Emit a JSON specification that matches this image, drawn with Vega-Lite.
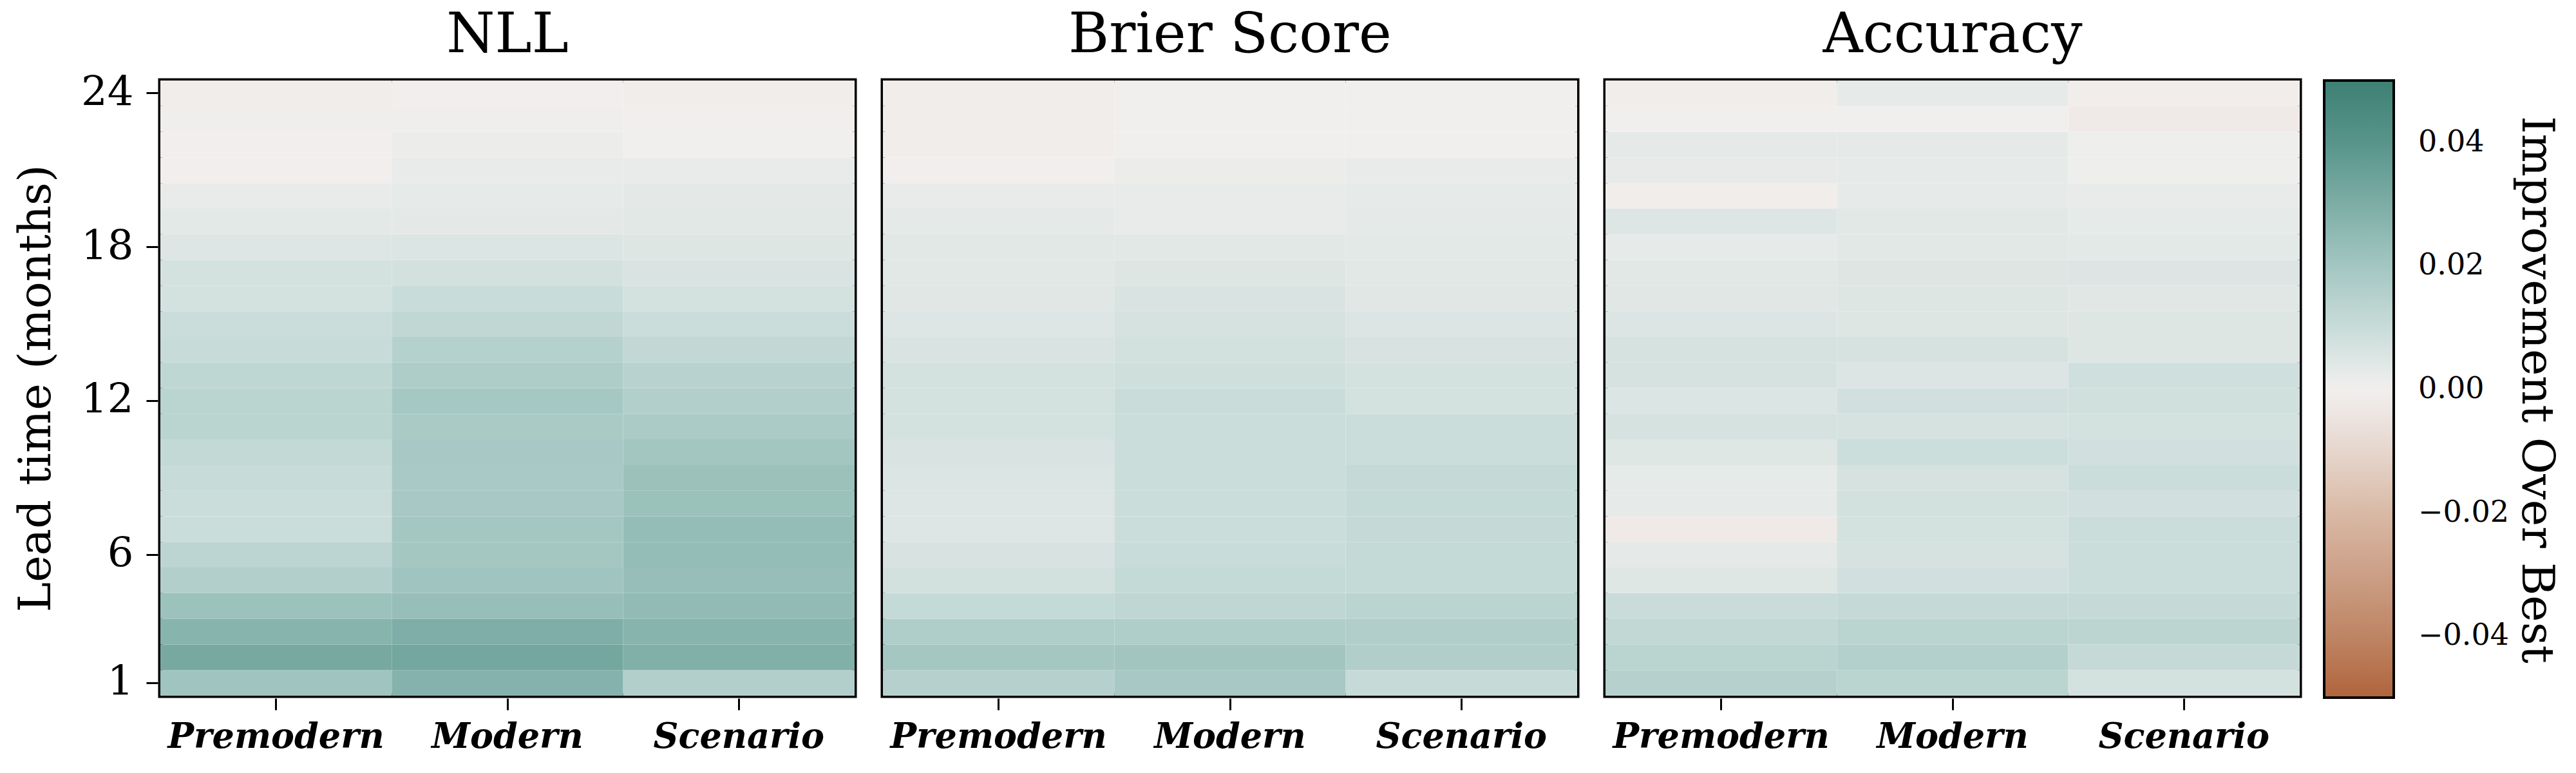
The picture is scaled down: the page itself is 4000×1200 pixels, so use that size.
{
  "$schema": "https://vega.github.io/schema/vega-lite/v6.json",
  "background": "white",
  "padding": {"left": 21, "top": 12, "right": 10, "bottom": 10},
  "datasets": {
    "cells": [
      {"metric":"NLL","model":"Premodern","lead":1,"v":0.0208},{"metric":"NLL","model":"Premodern","lead":2,"v":0.0316},{"metric":"NLL","model":"Premodern","lead":3,"v":0.0271},{"metric":"NLL","model":"Premodern","lead":4,"v":0.0218},{"metric":"NLL","model":"Premodern","lead":5,"v":0.0159},{"metric":"NLL","model":"Premodern","lead":6,"v":0.013},{"metric":"NLL","model":"Premodern","lead":7,"v":0.0095},{"metric":"NLL","model":"Premodern","lead":8,"v":0.0095},{"metric":"NLL","model":"Premodern","lead":9,"v":0.0103},{"metric":"NLL","model":"Premodern","lead":10,"v":0.0114},{"metric":"NLL","model":"Premodern","lead":11,"v":0.0138},{"metric":"NLL","model":"Premodern","lead":12,"v":0.0138},{"metric":"NLL","model":"Premodern","lead":13,"v":0.0124},{"metric":"NLL","model":"Premodern","lead":14,"v":0.0103},{"metric":"NLL","model":"Premodern","lead":15,"v":0.0093},{"metric":"NLL","model":"Premodern","lead":16,"v":0.0071},{"metric":"NLL","model":"Premodern","lead":17,"v":0.0071},{"metric":"NLL","model":"Premodern","lead":18,"v":0.0049},{"metric":"NLL","model":"Premodern","lead":19,"v":0.0034},{"metric":"NLL","model":"Premodern","lead":20,"v":0.0022},{"metric":"NLL","model":"Premodern","lead":21,"v":-0.0004},{"metric":"NLL","model":"Premodern","lead":22,"v":-0.0004},{"metric":"NLL","model":"Premodern","lead":23,"v":-0.0005},{"metric":"NLL","model":"Premodern","lead":24,"v":-0.001},
      {"metric":"NLL","model":"Modern","lead":1,"v":0.0279},{"metric":"NLL","model":"Modern","lead":2,"v":0.0324},{"metric":"NLL","model":"Modern","lead":3,"v":0.0297},{"metric":"NLL","model":"Modern","lead":4,"v":0.0232},{"metric":"NLL","model":"Modern","lead":5,"v":0.0208},{"metric":"NLL","model":"Modern","lead":6,"v":0.0195},{"metric":"NLL","model":"Modern","lead":7,"v":0.0195},{"metric":"NLL","model":"Modern","lead":8,"v":0.0189},{"metric":"NLL","model":"Modern","lead":9,"v":0.0186},{"metric":"NLL","model":"Modern","lead":10,"v":0.0189},{"metric":"NLL","model":"Modern","lead":11,"v":0.0181},{"metric":"NLL","model":"Modern","lead":12,"v":0.0192},{"metric":"NLL","model":"Modern","lead":13,"v":0.017},{"metric":"NLL","model":"Modern","lead":14,"v":0.0151},{"metric":"NLL","model":"Modern","lead":15,"v":0.0122},{"metric":"NLL","model":"Modern","lead":16,"v":0.01},{"metric":"NLL","model":"Modern","lead":17,"v":0.0076},{"metric":"NLL","model":"Modern","lead":18,"v":0.0054},{"metric":"NLL","model":"Modern","lead":19,"v":0.0032},{"metric":"NLL","model":"Modern","lead":20,"v":0.0027},{"metric":"NLL","model":"Modern","lead":21,"v":0.0022},{"metric":"NLL","model":"Modern","lead":22,"v":0.0012},{"metric":"NLL","model":"Modern","lead":23,"v":0.0005},{"metric":"NLL","model":"Modern","lead":24,"v":-0.0003},
      {"metric":"NLL","model":"Scenario","lead":1,"v":0.0159},{"metric":"NLL","model":"Scenario","lead":2,"v":0.0289},{"metric":"NLL","model":"Scenario","lead":3,"v":0.0274},{"metric":"NLL","model":"Scenario","lead":4,"v":0.0245},{"metric":"NLL","model":"Scenario","lead":5,"v":0.0232},{"metric":"NLL","model":"Scenario","lead":6,"v":0.0237},{"metric":"NLL","model":"Scenario","lead":7,"v":0.0237},{"metric":"NLL","model":"Scenario","lead":8,"v":0.0221},{"metric":"NLL","model":"Scenario","lead":9,"v":0.0221},{"metric":"NLL","model":"Scenario","lead":10,"v":0.02},{"metric":"NLL","model":"Scenario","lead":11,"v":0.0178},{"metric":"NLL","model":"Scenario","lead":12,"v":0.0159},{"metric":"NLL","model":"Scenario","lead":13,"v":0.0143},{"metric":"NLL","model":"Scenario","lead":14,"v":0.0116},{"metric":"NLL","model":"Scenario","lead":15,"v":0.0095},{"metric":"NLL","model":"Scenario","lead":16,"v":0.0071},{"metric":"NLL","model":"Scenario","lead":17,"v":0.0059},{"metric":"NLL","model":"Scenario","lead":18,"v":0.0046},{"metric":"NLL","model":"Scenario","lead":19,"v":0.0037},{"metric":"NLL","model":"Scenario","lead":20,"v":0.0032},{"metric":"NLL","model":"Scenario","lead":21,"v":0.0022},{"metric":"NLL","model":"Scenario","lead":22,"v":0.0002},{"metric":"NLL","model":"Scenario","lead":23,"v":-0.0004},{"metric":"NLL","model":"Scenario","lead":24,"v":-0.0008},
      {"metric":"Brier Score","model":"Premodern","lead":1,"v":0.0149},{"metric":"Brier Score","model":"Premodern","lead":2,"v":0.0195},{"metric":"Brier Score","model":"Premodern","lead":3,"v":0.0165},{"metric":"Brier Score","model":"Premodern","lead":4,"v":0.011},{"metric":"Brier Score","model":"Premodern","lead":5,"v":0.0076},{"metric":"Brier Score","model":"Premodern","lead":6,"v":0.0061},{"metric":"Brier Score","model":"Premodern","lead":7,"v":0.0049},{"metric":"Brier Score","model":"Premodern","lead":8,"v":0.0049},{"metric":"Brier Score","model":"Premodern","lead":9,"v":0.0054},{"metric":"Brier Score","model":"Premodern","lead":10,"v":0.0059},{"metric":"Brier Score","model":"Premodern","lead":11,"v":0.0073},{"metric":"Brier Score","model":"Premodern","lead":12,"v":0.0073},{"metric":"Brier Score","model":"Premodern","lead":13,"v":0.0073},{"metric":"Brier Score","model":"Premodern","lead":14,"v":0.0059},{"metric":"Brier Score","model":"Premodern","lead":15,"v":0.0049},{"metric":"Brier Score","model":"Premodern","lead":16,"v":0.0041},{"metric":"Brier Score","model":"Premodern","lead":17,"v":0.0039},{"metric":"Brier Score","model":"Premodern","lead":18,"v":0.0037},{"metric":"Brier Score","model":"Premodern","lead":19,"v":0.0029},{"metric":"Brier Score","model":"Premodern","lead":20,"v":0.0022},{"metric":"Brier Score","model":"Premodern","lead":21,"v":-0.0004},{"metric":"Brier Score","model":"Premodern","lead":22,"v":-0.0008},{"metric":"Brier Score","model":"Premodern","lead":23,"v":-0.0008},{"metric":"Brier Score","model":"Premodern","lead":24,"v":-0.0008},
      {"metric":"Brier Score","model":"Modern","lead":1,"v":0.0189},{"metric":"Brier Score","model":"Modern","lead":2,"v":0.0203},{"metric":"Brier Score","model":"Modern","lead":3,"v":0.0165},{"metric":"Brier Score","model":"Modern","lead":4,"v":0.0124},{"metric":"Brier Score","model":"Modern","lead":5,"v":0.0111},{"metric":"Brier Score","model":"Modern","lead":6,"v":0.01},{"metric":"Brier Score","model":"Modern","lead":7,"v":0.0095},{"metric":"Brier Score","model":"Modern","lead":8,"v":0.0095},{"metric":"Brier Score","model":"Modern","lead":9,"v":0.0095},{"metric":"Brier Score","model":"Modern","lead":10,"v":0.0095},{"metric":"Brier Score","model":"Modern","lead":11,"v":0.0095},{"metric":"Brier Score","model":"Modern","lead":12,"v":0.0098},{"metric":"Brier Score","model":"Modern","lead":13,"v":0.0085},{"metric":"Brier Score","model":"Modern","lead":14,"v":0.0076},{"metric":"Brier Score","model":"Modern","lead":15,"v":0.0066},{"metric":"Brier Score","model":"Modern","lead":16,"v":0.0059},{"metric":"Brier Score","model":"Modern","lead":17,"v":0.0046},{"metric":"Brier Score","model":"Modern","lead":18,"v":0.0037},{"metric":"Brier Score","model":"Modern","lead":19,"v":0.0022},{"metric":"Brier Score","model":"Modern","lead":20,"v":0.0022},{"metric":"Brier Score","model":"Modern","lead":21,"v":0.0012},{"metric":"Brier Score","model":"Modern","lead":22,"v":0.0002},{"metric":"Brier Score","model":"Modern","lead":23,"v":0.0001},{"metric":"Brier Score","model":"Modern","lead":24,"v":-0.0002},
      {"metric":"Brier Score","model":"Scenario","lead":1,"v":0.0105},{"metric":"Brier Score","model":"Scenario","lead":2,"v":0.0162},{"metric":"Brier Score","model":"Scenario","lead":3,"v":0.0162},{"metric":"Brier Score","model":"Scenario","lead":4,"v":0.0138},{"metric":"Brier Score","model":"Scenario","lead":5,"v":0.0111},{"metric":"Brier Score","model":"Scenario","lead":6,"v":0.0111},{"metric":"Brier Score","model":"Scenario","lead":7,"v":0.0111},{"metric":"Brier Score","model":"Scenario","lead":8,"v":0.0111},{"metric":"Brier Score","model":"Scenario","lead":9,"v":0.0111},{"metric":"Brier Score","model":"Scenario","lead":10,"v":0.0093},{"metric":"Brier Score","model":"Scenario","lead":11,"v":0.0093},{"metric":"Brier Score","model":"Scenario","lead":12,"v":0.0073},{"metric":"Brier Score","model":"Scenario","lead":13,"v":0.0073},{"metric":"Brier Score","model":"Scenario","lead":14,"v":0.0061},{"metric":"Brier Score","model":"Scenario","lead":15,"v":0.0051},{"metric":"Brier Score","model":"Scenario","lead":16,"v":0.0041},{"metric":"Brier Score","model":"Scenario","lead":17,"v":0.0039},{"metric":"Brier Score","model":"Scenario","lead":18,"v":0.0034},{"metric":"Brier Score","model":"Scenario","lead":19,"v":0.0029},{"metric":"Brier Score","model":"Scenario","lead":20,"v":0.0027},{"metric":"Brier Score","model":"Scenario","lead":21,"v":0.0022},{"metric":"Brier Score","model":"Scenario","lead":22,"v":-0.0002},{"metric":"Brier Score","model":"Scenario","lead":23,"v":-0.0002},{"metric":"Brier Score","model":"Scenario","lead":24,"v":-0.0002},
      {"metric":"Accuracy","model":"Premodern","lead":1,"v":0.0149},{"metric":"Accuracy","model":"Premodern","lead":2,"v":0.0138},{"metric":"Accuracy","model":"Premodern","lead":3,"v":0.0116},{"metric":"Accuracy","model":"Premodern","lead":4,"v":0.0098},{"metric":"Accuracy","model":"Premodern","lead":5,"v":0.0044},{"metric":"Accuracy","model":"Premodern","lead":6,"v":0.0029},{"metric":"Accuracy","model":"Premodern","lead":7,"v":-0.002},{"metric":"Accuracy","model":"Premodern","lead":8,"v":0.0027},{"metric":"Accuracy","model":"Premodern","lead":9,"v":0.0027},{"metric":"Accuracy","model":"Premodern","lead":10,"v":0.0044},{"metric":"Accuracy","model":"Premodern","lead":11,"v":0.0068},{"metric":"Accuracy","model":"Premodern","lead":12,"v":0.0054},{"metric":"Accuracy","model":"Premodern","lead":13,"v":0.0068},{"metric":"Accuracy","model":"Premodern","lead":14,"v":0.0068},{"metric":"Accuracy","model":"Premodern","lead":15,"v":0.0051},{"metric":"Accuracy","model":"Premodern","lead":16,"v":0.0041},{"metric":"Accuracy","model":"Premodern","lead":17,"v":0.0039},{"metric":"Accuracy","model":"Premodern","lead":18,"v":0.0027},{"metric":"Accuracy","model":"Premodern","lead":19,"v":0.0049},{"metric":"Accuracy","model":"Premodern","lead":20,"v":-0.0008},{"metric":"Accuracy","model":"Premodern","lead":21,"v":0.0024},{"metric":"Accuracy","model":"Premodern","lead":22,"v":0.0029},{"metric":"Accuracy","model":"Premodern","lead":23,"v":0.0},{"metric":"Accuracy","model":"Premodern","lead":24,"v":-0.0008},
      {"metric":"Accuracy","model":"Modern","lead":1,"v":0.0138},{"metric":"Accuracy","model":"Modern","lead":2,"v":0.0154},{"metric":"Accuracy","model":"Modern","lead":3,"v":0.0138},{"metric":"Accuracy","model":"Modern","lead":4,"v":0.0108},{"metric":"Accuracy","model":"Modern","lead":5,"v":0.0078},{"metric":"Accuracy","model":"Modern","lead":6,"v":0.0068},{"metric":"Accuracy","model":"Modern","lead":7,"v":0.0071},{"metric":"Accuracy","model":"Modern","lead":8,"v":0.0076},{"metric":"Accuracy","model":"Modern","lead":9,"v":0.0066},{"metric":"Accuracy","model":"Modern","lead":10,"v":0.009},{"metric":"Accuracy","model":"Modern","lead":11,"v":0.0066},{"metric":"Accuracy","model":"Modern","lead":12,"v":0.0078},{"metric":"Accuracy","model":"Modern","lead":13,"v":0.0051},{"metric":"Accuracy","model":"Modern","lead":14,"v":0.0066},{"metric":"Accuracy","model":"Modern","lead":15,"v":0.0046},{"metric":"Accuracy","model":"Modern","lead":16,"v":0.0046},{"metric":"Accuracy","model":"Modern","lead":17,"v":0.0046},{"metric":"Accuracy","model":"Modern","lead":18,"v":0.0039},{"metric":"Accuracy","model":"Modern","lead":19,"v":0.0039},{"metric":"Accuracy","model":"Modern","lead":20,"v":0.0027},{"metric":"Accuracy","model":"Modern","lead":21,"v":0.0027},{"metric":"Accuracy","model":"Modern","lead":22,"v":0.0029},{"metric":"Accuracy","model":"Modern","lead":23,"v":0.0},{"metric":"Accuracy","model":"Modern","lead":24,"v":0.0027},
      {"metric":"Accuracy","model":"Scenario","lead":1,"v":0.0071},{"metric":"Accuracy","model":"Scenario","lead":2,"v":0.0108},{"metric":"Accuracy","model":"Scenario","lead":3,"v":0.0132},{"metric":"Accuracy","model":"Scenario","lead":4,"v":0.0108},{"metric":"Accuracy","model":"Scenario","lead":5,"v":0.0095},{"metric":"Accuracy","model":"Scenario","lead":6,"v":0.0095},{"metric":"Accuracy","model":"Scenario","lead":7,"v":0.0095},{"metric":"Accuracy","model":"Scenario","lead":8,"v":0.0078},{"metric":"Accuracy","model":"Scenario","lead":9,"v":0.0093},{"metric":"Accuracy","model":"Scenario","lead":10,"v":0.0078},{"metric":"Accuracy","model":"Scenario","lead":11,"v":0.0073},{"metric":"Accuracy","model":"Scenario","lead":12,"v":0.0081},{"metric":"Accuracy","model":"Scenario","lead":13,"v":0.0083},{"metric":"Accuracy","model":"Scenario","lead":14,"v":0.0046},{"metric":"Accuracy","model":"Scenario","lead":15,"v":0.0046},{"metric":"Accuracy","model":"Scenario","lead":16,"v":0.0041},{"metric":"Accuracy","model":"Scenario","lead":17,"v":0.0051},{"metric":"Accuracy","model":"Scenario","lead":18,"v":0.0034},{"metric":"Accuracy","model":"Scenario","lead":19,"v":0.0027},{"metric":"Accuracy","model":"Scenario","lead":20,"v":0.0022},{"metric":"Accuracy","model":"Scenario","lead":21,"v":0.0007},{"metric":"Accuracy","model":"Scenario","lead":22,"v":0.0007},{"metric":"Accuracy","model":"Scenario","lead":23,"v":-0.002},{"metric":"Accuracy","model":"Scenario","lead":24,"v":-0.0008}
    ]
  },
  "data": {"name": "cells"},
  "facet": {
    "column": {
      "field": "metric",
      "type": "nominal",
      "sort": ["NLL", "Brier Score", "Accuracy"],
      "title": null,
      "header": {"labelFontSize": 86, "labelFont": "DejaVu Serif", "labelColor": "black", "labelPadding": 22, "labelLimit": 0}
    }
  },
  "spacing": 36,
  "spec": {
    "width": 1078,
    "height": 955,
    "mark": {"type": "rect"},
    "encoding": {
      "x": {
        "field": "model",
        "type": "nominal",
        "sort": ["Premodern", "Modern", "Scenario"],
        "title": null,
        "axis": {"labelAngle": 0, "labelFontSize": 54, "labelFontStyle": "italic", "labelFontWeight": "bold", "labelFont": "DejaVu Serif", "labelColor": "black", "labelLimit": 0, "tickSize": 18, "tickWidth": 3, "tickColor": "black", "domain": false, "labelPadding": 15}
      },
      "y": {
        "field": "lead",
        "type": "ordinal",
        "sort": "descending",
        "title": "Lead time (months)",
        "axis": {"values": [1, 6, 12, 18, 24], "labelAngle": 0, "labelFontSize": 64, "labelFont": "DejaVu Serif", "labelColor": "black", "tickSize": 18, "tickWidth": 3, "tickColor": "black", "domain": false, "labelPadding": 20, "titleFontSize": 70, "titleFont": "DejaVu Serif", "titleFontWeight": "normal", "titleColor": "black", "titlePadding": 33, "titleLimit": 0}
      },
      "color": {
        "field": "v",
        "type": "quantitative",
        "scale": {
          "domain": [-0.05, -0.04, -0.03, -0.02, -0.01, 0, 0.01, 0.02, 0.03, 0.04, 0.05],
          "range": ["#b0643c", "#be8564", "#cc9f86", "#d9b9a6", "#e6d6cd", "#f1efee", "#c8dcd9", "#a3c6c1", "#7dada6", "#58948a", "#3d8074"],
          "interpolate": "rgb"
        },
        "legend": {
          "orient": "right",
          "offset": 34,
          "direction": "vertical",
          "gradientLength": 958,
          "gradientThickness": 108,
          "gradientStrokeColor": "black",
          "gradientStrokeWidth": 4,
          "values": [-0.04, -0.02, 0, 0.02, 0.04],
          "format": ".2f",
          "labelFontSize": 46,
          "labelFont": "DejaVu Serif",
          "labelColor": "black",
          "labelOffset": 38,
          "labelOverlap": false,
          "title": "Improvement Over Best",
          "titleOrient": "right",
          "titleAngle": 90,
          "titleLimit": 0,
          "titleFontSize": 70,
          "titleFont": "DejaVu Serif",
          "titleFontWeight": "normal",
          "titleColor": "black",
          "titleAnchor": "middle",
          "titlePadding": 6
        }
      }
    }
  },
  "config": {
    "view": {"stroke": "black", "strokeWidth": 7},
    "style": {"cell": {"stroke": "black", "strokeWidth": 7}},
    "scale": {"bandPaddingInner": 0, "bandPaddingOuter": 0}
  }
}
